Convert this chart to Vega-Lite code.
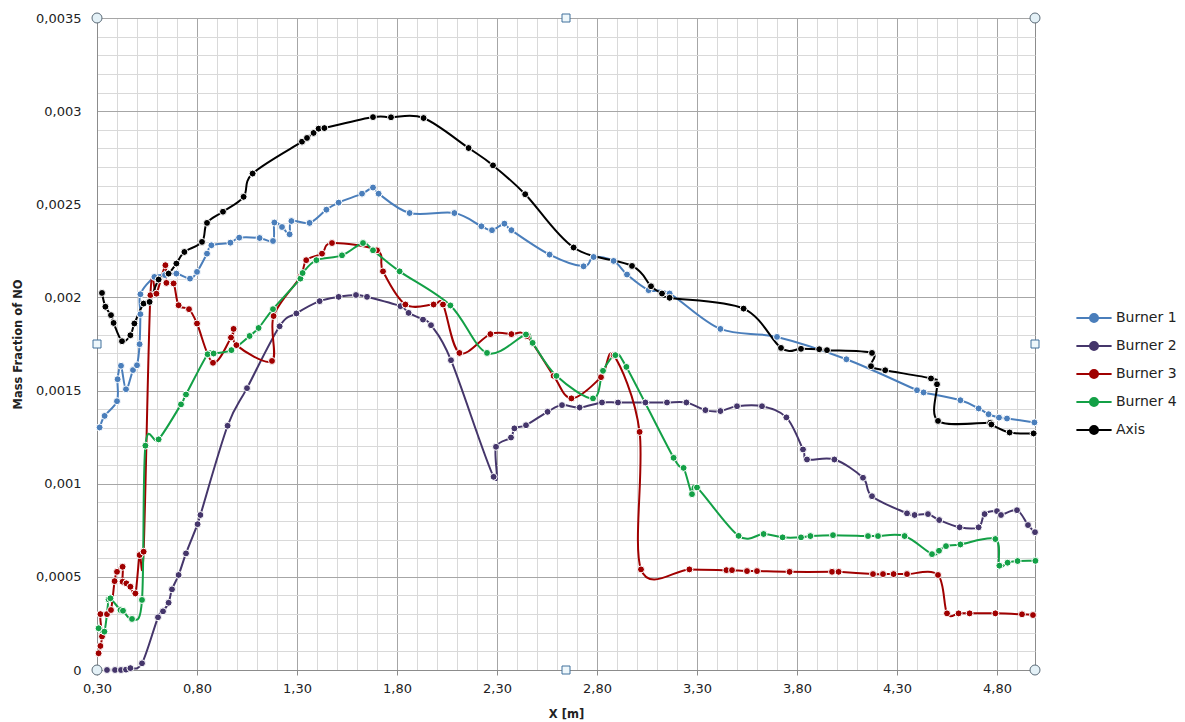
{
  "$schema": "https://vega.github.io/schema/vega-lite/v6.json",
  "width": 938,
  "height": 652,
  "autosize": {"type": "none"},
  "padding": {"left": 97, "top": 18, "right": 150, "bottom": 52},
  "background": "white",
  "config": {
    "font": "DejaVu Sans",
    "view": {"stroke": "#8c8c8c", "strokeWidth": 1},
    "axis": {
      "domainColor": "#8c8c8c",
      "labelFont": "DejaVu Sans",
      "labelFontSize": 13,
      "labelColor": "#222222",
      "labelOverlap": false,
      "labelFlush": false,
      "titleFont": "DejaVu Sans",
      "titleFontSize": 11.5,
      "titleFontWeight": "bold",
      "titleColor": "#222222",
      "gridWidth": 1
    }
  },
  "datasets": {
    "series": [
      {"s": "Burner 1", "x": 0.313, "y": 0.001302},
      {"s": "Burner 1", "x": 0.338, "y": 0.001364},
      {"s": "Burner 1", "x": 0.400, "y": 0.001443},
      {"s": "Burner 1", "x": 0.403, "y": 0.001561},
      {"s": "Burner 1", "x": 0.420, "y": 0.001633},
      {"s": "Burner 1", "x": 0.445, "y": 0.001507},
      {"s": "Burner 1", "x": 0.480, "y": 0.001610},
      {"s": "Burner 1", "x": 0.500, "y": 0.001636},
      {"s": "Burner 1", "x": 0.513, "y": 0.001749},
      {"s": "Burner 1", "x": 0.517, "y": 0.001910},
      {"s": "Burner 1", "x": 0.517, "y": 0.002017},
      {"s": "Burner 1", "x": 0.587, "y": 0.002110},
      {"s": "Burner 1", "x": 0.640, "y": 0.002120},
      {"s": "Burner 1", "x": 0.697, "y": 0.002128},
      {"s": "Burner 1", "x": 0.765, "y": 0.002101},
      {"s": "Burner 1", "x": 0.800, "y": 0.002137},
      {"s": "Burner 1", "x": 0.850, "y": 0.002235},
      {"s": "Burner 1", "x": 0.872, "y": 0.002280},
      {"s": "Burner 1", "x": 0.967, "y": 0.002294},
      {"s": "Burner 1", "x": 1.011, "y": 0.002321},
      {"s": "Burner 1", "x": 1.113, "y": 0.002319},
      {"s": "Burner 1", "x": 1.180, "y": 0.002303},
      {"s": "Burner 1", "x": 1.187, "y": 0.002402},
      {"s": "Burner 1", "x": 1.225, "y": 0.002378},
      {"s": "Burner 1", "x": 1.263, "y": 0.002339},
      {"s": "Burner 1", "x": 1.272, "y": 0.002410},
      {"s": "Burner 1", "x": 1.363, "y": 0.002400},
      {"s": "Burner 1", "x": 1.447, "y": 0.002471},
      {"s": "Burner 1", "x": 1.508, "y": 0.002509},
      {"s": "Burner 1", "x": 1.625, "y": 0.002557},
      {"s": "Burner 1", "x": 1.680, "y": 0.002590},
      {"s": "Burner 1", "x": 1.708, "y": 0.002557},
      {"s": "Burner 1", "x": 1.863, "y": 0.002453},
      {"s": "Burner 1", "x": 2.087, "y": 0.002453},
      {"s": "Burner 1", "x": 2.222, "y": 0.002382},
      {"s": "Burner 1", "x": 2.275, "y": 0.002361},
      {"s": "Burner 1", "x": 2.337, "y": 0.002396},
      {"s": "Burner 1", "x": 2.372, "y": 0.002361},
      {"s": "Burner 1", "x": 2.563, "y": 0.002230},
      {"s": "Burner 1", "x": 2.733, "y": 0.002167},
      {"s": "Burner 1", "x": 2.783, "y": 0.002217},
      {"s": "Burner 1", "x": 2.883, "y": 0.002196},
      {"s": "Burner 1", "x": 2.950, "y": 0.002123},
      {"s": "Burner 1", "x": 3.058, "y": 0.002039},
      {"s": "Burner 1", "x": 3.163, "y": 0.002021},
      {"s": "Burner 1", "x": 3.417, "y": 0.001831},
      {"s": "Burner 1", "x": 3.700, "y": 0.001788},
      {"s": "Burner 1", "x": 4.047, "y": 0.001668},
      {"s": "Burner 1", "x": 4.400, "y": 0.001502},
      {"s": "Burner 1", "x": 4.433, "y": 0.001490},
      {"s": "Burner 1", "x": 4.617, "y": 0.001448},
      {"s": "Burner 1", "x": 4.708, "y": 0.001404},
      {"s": "Burner 1", "x": 4.758, "y": 0.001373},
      {"s": "Burner 1", "x": 4.810, "y": 0.001355},
      {"s": "Burner 1", "x": 4.850, "y": 0.001350},
      {"s": "Burner 1", "x": 4.987, "y": 0.001329},

      {"s": "Burner 2", "x": 0.350, "y": 0.0},
      {"s": "Burner 2", "x": 0.390, "y": 0.0},
      {"s": "Burner 2", "x": 0.420, "y": 0.0},
      {"s": "Burner 2", "x": 0.445, "y": 0.000002},
      {"s": "Burner 2", "x": 0.467, "y": 0.000010},
      {"s": "Burner 2", "x": 0.525, "y": 0.000036},
      {"s": "Burner 2", "x": 0.605, "y": 0.000283},
      {"s": "Burner 2", "x": 0.630, "y": 0.000315},
      {"s": "Burner 2", "x": 0.658, "y": 0.000361},
      {"s": "Burner 2", "x": 0.675, "y": 0.000433},
      {"s": "Burner 2", "x": 0.708, "y": 0.000510},
      {"s": "Burner 2", "x": 0.745, "y": 0.000626},
      {"s": "Burner 2", "x": 0.803, "y": 0.000783},
      {"s": "Burner 2", "x": 0.817, "y": 0.000832},
      {"s": "Burner 2", "x": 0.953, "y": 0.001311},
      {"s": "Burner 2", "x": 1.050, "y": 0.001513},
      {"s": "Burner 2", "x": 1.213, "y": 0.001845},
      {"s": "Burner 2", "x": 1.297, "y": 0.001914},
      {"s": "Burner 2", "x": 1.413, "y": 0.001980},
      {"s": "Burner 2", "x": 1.508, "y": 0.002003},
      {"s": "Burner 2", "x": 1.595, "y": 0.002013},
      {"s": "Burner 2", "x": 1.650, "y": 0.002003},
      {"s": "Burner 2", "x": 1.817, "y": 0.001953},
      {"s": "Burner 2", "x": 1.858, "y": 0.001917},
      {"s": "Burner 2", "x": 1.930, "y": 0.001881},
      {"s": "Burner 2", "x": 1.970, "y": 0.001851},
      {"s": "Burner 2", "x": 2.070, "y": 0.001663},
      {"s": "Burner 2", "x": 2.283, "y": 0.001037},
      {"s": "Burner 2", "x": 2.295, "y": 0.001198},
      {"s": "Burner 2", "x": 2.370, "y": 0.001248},
      {"s": "Burner 2", "x": 2.387, "y": 0.001297},
      {"s": "Burner 2", "x": 2.445, "y": 0.001314},
      {"s": "Burner 2", "x": 2.553, "y": 0.001386},
      {"s": "Burner 2", "x": 2.625, "y": 0.001422},
      {"s": "Burner 2", "x": 2.713, "y": 0.001409},
      {"s": "Burner 2", "x": 2.825, "y": 0.001436},
      {"s": "Burner 2", "x": 2.905, "y": 0.001436},
      {"s": "Burner 2", "x": 3.042, "y": 0.001436},
      {"s": "Burner 2", "x": 3.150, "y": 0.001436},
      {"s": "Burner 2", "x": 3.247, "y": 0.001436},
      {"s": "Burner 2", "x": 3.342, "y": 0.001395},
      {"s": "Burner 2", "x": 3.417, "y": 0.001390},
      {"s": "Burner 2", "x": 3.500, "y": 0.001416},
      {"s": "Burner 2", "x": 3.625, "y": 0.001416},
      {"s": "Burner 2", "x": 3.747, "y": 0.001356},
      {"s": "Burner 2", "x": 3.830, "y": 0.001184},
      {"s": "Burner 2", "x": 3.850, "y": 0.001130},
      {"s": "Burner 2", "x": 3.987, "y": 0.001130},
      {"s": "Burner 2", "x": 4.130, "y": 0.001032},
      {"s": "Burner 2", "x": 4.175, "y": 0.000933},
      {"s": "Burner 2", "x": 4.350, "y": 0.000841},
      {"s": "Burner 2", "x": 4.388, "y": 0.000832},
      {"s": "Burner 2", "x": 4.455, "y": 0.000837},
      {"s": "Burner 2", "x": 4.511, "y": 0.000805},
      {"s": "Burner 2", "x": 4.613, "y": 0.000766},
      {"s": "Burner 2", "x": 4.708, "y": 0.000766},
      {"s": "Burner 2", "x": 4.738, "y": 0.000837},
      {"s": "Burner 2", "x": 4.800, "y": 0.000853},
      {"s": "Burner 2", "x": 4.820, "y": 0.000832},
      {"s": "Burner 2", "x": 4.900, "y": 0.000858},
      {"s": "Burner 2", "x": 4.955, "y": 0.000778},
      {"s": "Burner 2", "x": 4.990, "y": 0.000740},

      {"s": "Burner 3", "x": 0.308, "y": 0.000090},
      {"s": "Burner 3", "x": 0.317, "y": 0.000129},
      {"s": "Burner 3", "x": 0.325, "y": 0.000180},
      {"s": "Burner 3", "x": 0.317, "y": 0.000300},
      {"s": "Burner 3", "x": 0.350, "y": 0.000300},
      {"s": "Burner 3", "x": 0.370, "y": 0.000322},
      {"s": "Burner 3", "x": 0.388, "y": 0.000477},
      {"s": "Burner 3", "x": 0.400, "y": 0.000527},
      {"s": "Burner 3", "x": 0.428, "y": 0.000554},
      {"s": "Burner 3", "x": 0.428, "y": 0.000474},
      {"s": "Burner 3", "x": 0.447, "y": 0.000465},
      {"s": "Burner 3", "x": 0.467, "y": 0.000447},
      {"s": "Burner 3", "x": 0.492, "y": 0.000411},
      {"s": "Burner 3", "x": 0.513, "y": 0.000617},
      {"s": "Burner 3", "x": 0.533, "y": 0.000635},
      {"s": "Burner 3", "x": 0.567, "y": 0.002012},
      {"s": "Burner 3", "x": 0.597, "y": 0.002020},
      {"s": "Burner 3", "x": 0.642, "y": 0.002173},
      {"s": "Burner 3", "x": 0.647, "y": 0.002078},
      {"s": "Burner 3", "x": 0.683, "y": 0.002075},
      {"s": "Burner 3", "x": 0.708, "y": 0.001958},
      {"s": "Burner 3", "x": 0.760, "y": 0.001937},
      {"s": "Burner 3", "x": 0.800, "y": 0.001860},
      {"s": "Burner 3", "x": 0.880, "y": 0.001649},
      {"s": "Burner 3", "x": 0.970, "y": 0.001785},
      {"s": "Burner 3", "x": 0.983, "y": 0.001831},
      {"s": "Burner 3", "x": 0.997, "y": 0.001744},
      {"s": "Burner 3", "x": 1.175, "y": 0.001659},
      {"s": "Burner 3", "x": 1.183, "y": 0.001900},
      {"s": "Burner 3", "x": 1.316, "y": 0.002110},
      {"s": "Burner 3", "x": 1.346, "y": 0.002200},
      {"s": "Burner 3", "x": 1.425, "y": 0.002235},
      {"s": "Burner 3", "x": 1.475, "y": 0.002292},
      {"s": "Burner 3", "x": 1.700, "y": 0.002253},
      {"s": "Burner 3", "x": 1.730, "y": 0.002140},
      {"s": "Burner 3", "x": 1.842, "y": 0.001962},
      {"s": "Burner 3", "x": 1.983, "y": 0.001962},
      {"s": "Burner 3", "x": 2.030, "y": 0.001962},
      {"s": "Burner 3", "x": 2.112, "y": 0.001702},
      {"s": "Burner 3", "x": 2.267, "y": 0.001803},
      {"s": "Burner 3", "x": 2.372, "y": 0.001803},
      {"s": "Burner 3", "x": 2.450, "y": 0.001792},
      {"s": "Burner 3", "x": 2.583, "y": 0.001579},
      {"s": "Burner 3", "x": 2.672, "y": 0.001458},
      {"s": "Burner 3", "x": 2.820, "y": 0.001572},
      {"s": "Burner 3", "x": 2.883, "y": 0.001690},
      {"s": "Burner 3", "x": 3.013, "y": 0.001278},
      {"s": "Burner 3", "x": 3.020, "y": 0.000540},
      {"s": "Burner 3", "x": 3.262, "y": 0.000540},
      {"s": "Burner 3", "x": 3.447, "y": 0.000536},
      {"s": "Burner 3", "x": 3.475, "y": 0.000536},
      {"s": "Burner 3", "x": 3.550, "y": 0.000531},
      {"s": "Burner 3", "x": 3.600, "y": 0.000531},
      {"s": "Burner 3", "x": 3.763, "y": 0.000527},
      {"s": "Burner 3", "x": 3.975, "y": 0.000527},
      {"s": "Burner 3", "x": 4.008, "y": 0.000527},
      {"s": "Burner 3", "x": 4.180, "y": 0.000515},
      {"s": "Burner 3", "x": 4.230, "y": 0.000515},
      {"s": "Burner 3", "x": 4.283, "y": 0.000515},
      {"s": "Burner 3", "x": 4.350, "y": 0.000515},
      {"s": "Burner 3", "x": 4.505, "y": 0.000510},
      {"s": "Burner 3", "x": 4.550, "y": 0.000304},
      {"s": "Burner 3", "x": 4.608, "y": 0.000304},
      {"s": "Burner 3", "x": 4.663, "y": 0.000304},
      {"s": "Burner 3", "x": 4.792, "y": 0.000304},
      {"s": "Burner 3", "x": 4.925, "y": 0.000299},
      {"s": "Burner 3", "x": 4.980, "y": 0.000295},

      {"s": "Burner 4", "x": 0.308, "y": 0.000224},
      {"s": "Burner 4", "x": 0.337, "y": 0.000206},
      {"s": "Burner 4", "x": 0.358, "y": 0.000379},
      {"s": "Burner 4", "x": 0.367, "y": 0.000385},
      {"s": "Burner 4", "x": 0.417, "y": 0.000322},
      {"s": "Burner 4", "x": 0.430, "y": 0.000318},
      {"s": "Burner 4", "x": 0.475, "y": 0.000274},
      {"s": "Burner 4", "x": 0.525, "y": 0.000376},
      {"s": "Burner 4", "x": 0.542, "y": 0.001204},
      {"s": "Burner 4", "x": 0.608, "y": 0.001238},
      {"s": "Burner 4", "x": 0.720, "y": 0.001426},
      {"s": "Burner 4", "x": 0.745, "y": 0.001479},
      {"s": "Burner 4", "x": 0.853, "y": 0.001695},
      {"s": "Burner 4", "x": 0.883, "y": 0.001699},
      {"s": "Burner 4", "x": 0.972, "y": 0.001717},
      {"s": "Burner 4", "x": 1.063, "y": 0.001793},
      {"s": "Burner 4", "x": 1.108, "y": 0.001836},
      {"s": "Burner 4", "x": 1.180, "y": 0.001937},
      {"s": "Burner 4", "x": 1.317, "y": 0.002101},
      {"s": "Burner 4", "x": 1.328, "y": 0.002131},
      {"s": "Burner 4", "x": 1.397, "y": 0.002200},
      {"s": "Burner 4", "x": 1.525, "y": 0.002226},
      {"s": "Burner 4", "x": 1.630, "y": 0.002292},
      {"s": "Burner 4", "x": 1.680, "y": 0.002253},
      {"s": "Burner 4", "x": 1.813, "y": 0.002140},
      {"s": "Burner 4", "x": 2.067, "y": 0.001957},
      {"s": "Burner 4", "x": 2.250, "y": 0.001702},
      {"s": "Burner 4", "x": 2.445, "y": 0.001801},
      {"s": "Burner 4", "x": 2.478, "y": 0.001756},
      {"s": "Burner 4", "x": 2.597, "y": 0.001579},
      {"s": "Burner 4", "x": 2.780, "y": 0.001458},
      {"s": "Burner 4", "x": 2.830, "y": 0.001606},
      {"s": "Burner 4", "x": 2.892, "y": 0.001690},
      {"s": "Burner 4", "x": 2.947, "y": 0.001627},
      {"s": "Burner 4", "x": 3.183, "y": 0.001139},
      {"s": "Burner 4", "x": 3.233, "y": 0.001085},
      {"s": "Burner 4", "x": 3.275, "y": 0.000944},
      {"s": "Burner 4", "x": 3.300, "y": 0.000980},
      {"s": "Burner 4", "x": 3.508, "y": 0.000720},
      {"s": "Burner 4", "x": 3.633, "y": 0.000730},
      {"s": "Burner 4", "x": 3.728, "y": 0.000712},
      {"s": "Burner 4", "x": 3.820, "y": 0.000712},
      {"s": "Burner 4", "x": 3.867, "y": 0.000719},
      {"s": "Burner 4", "x": 3.980, "y": 0.000724},
      {"s": "Burner 4", "x": 4.155, "y": 0.000719},
      {"s": "Burner 4", "x": 4.205, "y": 0.000719},
      {"s": "Burner 4", "x": 4.338, "y": 0.000719},
      {"s": "Burner 4", "x": 4.475, "y": 0.000622},
      {"s": "Burner 4", "x": 4.510, "y": 0.000640},
      {"s": "Burner 4", "x": 4.545, "y": 0.000665},
      {"s": "Burner 4", "x": 4.617, "y": 0.000674},
      {"s": "Burner 4", "x": 4.792, "y": 0.000703},
      {"s": "Burner 4", "x": 4.812, "y": 0.000560},
      {"s": "Burner 4", "x": 4.853, "y": 0.000576},
      {"s": "Burner 4", "x": 4.903, "y": 0.000585},
      {"s": "Burner 4", "x": 4.992, "y": 0.000586},

      {"s": "Axis", "x": 0.325, "y": 0.002024},
      {"s": "Axis", "x": 0.342, "y": 0.001950},
      {"s": "Axis", "x": 0.370, "y": 0.001905},
      {"s": "Axis", "x": 0.383, "y": 0.001863},
      {"s": "Axis", "x": 0.425, "y": 0.001765},
      {"s": "Axis", "x": 0.467, "y": 0.001797},
      {"s": "Axis", "x": 0.487, "y": 0.001860},
      {"s": "Axis", "x": 0.533, "y": 0.001967},
      {"s": "Axis", "x": 0.563, "y": 0.001976},
      {"s": "Axis", "x": 0.608, "y": 0.002096},
      {"s": "Axis", "x": 0.658, "y": 0.002128},
      {"s": "Axis", "x": 0.697, "y": 0.002182},
      {"s": "Axis", "x": 0.737, "y": 0.002244},
      {"s": "Axis", "x": 0.825, "y": 0.002298},
      {"s": "Axis", "x": 0.850, "y": 0.002400},
      {"s": "Axis", "x": 0.930, "y": 0.002460},
      {"s": "Axis", "x": 1.033, "y": 0.002540},
      {"s": "Axis", "x": 1.078, "y": 0.002665},
      {"s": "Axis", "x": 1.325, "y": 0.002836},
      {"s": "Axis", "x": 1.350, "y": 0.002856},
      {"s": "Axis", "x": 1.383, "y": 0.002883},
      {"s": "Axis", "x": 1.408, "y": 0.002906},
      {"s": "Axis", "x": 1.437, "y": 0.002909},
      {"s": "Axis", "x": 1.680, "y": 0.002968},
      {"s": "Axis", "x": 1.770, "y": 0.002967},
      {"s": "Axis", "x": 1.933, "y": 0.002963},
      {"s": "Axis", "x": 2.158, "y": 0.002802},
      {"s": "Axis", "x": 2.280, "y": 0.002709},
      {"s": "Axis", "x": 2.441, "y": 0.002554},
      {"s": "Axis", "x": 2.683, "y": 0.002268},
      {"s": "Axis", "x": 2.975, "y": 0.002169},
      {"s": "Axis", "x": 3.070, "y": 0.002060},
      {"s": "Axis", "x": 3.125, "y": 0.002021},
      {"s": "Axis", "x": 3.163, "y": 0.001998},
      {"s": "Axis", "x": 3.533, "y": 0.001940},
      {"s": "Axis", "x": 3.720, "y": 0.001729},
      {"s": "Axis", "x": 3.820, "y": 0.001724},
      {"s": "Axis", "x": 3.911, "y": 0.001722},
      {"s": "Axis", "x": 3.950, "y": 0.001717},
      {"s": "Axis", "x": 4.175, "y": 0.001702},
      {"s": "Axis", "x": 4.170, "y": 0.001631},
      {"s": "Axis", "x": 4.241, "y": 0.001609},
      {"s": "Axis", "x": 4.470, "y": 0.001565},
      {"s": "Axis", "x": 4.500, "y": 0.001534},
      {"s": "Axis", "x": 4.505, "y": 0.001337},
      {"s": "Axis", "x": 4.766, "y": 0.001327},
      {"s": "Axis", "x": 4.772, "y": 0.001318},
      {"s": "Axis", "x": 4.863, "y": 0.001275},
      {"s": "Axis", "x": 4.983, "y": 0.001270}
    ],
    "corners": [
      {"x": 0.3, "y": 0.0},
      {"x": 0.3, "y": 0.0035},
      {"x": 4.99, "y": 0.0},
      {"x": 4.99, "y": 0.0035}
    ],
    "edges": [
      {"x": 2.645, "y": 0.0},
      {"x": 2.645, "y": 0.0035},
      {"x": 0.3, "y": 0.00175},
      {"x": 4.99, "y": 0.00175}
    ]
  },
  "encoding": {
    "x": {
      "field": "x",
      "type": "quantitative",
      "scale": {"domain": [0.3, 4.99], "nice": false, "zero": false},
      "axis": {
        "title": "X [m]",
        "titleX": 469,
        "titleY": 44,
        "titleBaseline": "middle",
        "values": [0.3, 0.4, 0.5, 0.6, 0.7, 0.8, 0.9, 1.0, 1.1, 1.2, 1.3, 1.4, 1.5, 1.6, 1.7, 1.8, 1.9, 2.0, 2.1, 2.2, 2.3, 2.4, 2.5, 2.6, 2.7, 2.8, 2.9, 3.0, 3.1, 3.2, 3.3, 3.4, 3.5, 3.6, 3.7, 3.8, 3.9, 4.0, 4.1, 4.2, 4.3, 4.4, 4.5, 4.6, 4.7, 4.8, 4.9],
        "labelExpr": "round(datum.value * 10) % 5 == 3 ? replace(format(datum.value, '.2f'), '.', ',') : ''",
        "gridColor": {"condition": {"test": "round(datum.value * 10) % 5 == 3", "value": "#a6a6a6"}, "value": "#d9d9d9"},
        "tickColor": {"condition": {"test": "round(datum.value * 10) % 5 == 3", "value": "#8c8c8c"}, "value": "transparent"},
        "tickSize": 5,
        "labelPadding": 7
      }
    },
    "y": {
      "field": "y",
      "type": "quantitative",
      "scale": {"domain": [0, 0.0035], "nice": false},
      "axis": {
        "title": "Mass Fraction of NO",
        "titleX": -79,
        "titleY": 326,
        "titleAngle": -90,
        "titleAlign": "center",
        "titleBaseline": "middle",
        "values": [0, 0.0001, 0.0002, 0.0003, 0.0004, 0.0005, 0.0006, 0.0007, 0.0008, 0.0009, 0.001, 0.0011, 0.0012, 0.0013, 0.0014, 0.0015, 0.0016, 0.0017, 0.0018, 0.0019, 0.002, 0.0021, 0.0022, 0.0023, 0.0024, 0.0025, 0.0026, 0.0027, 0.0028, 0.0029, 0.003, 0.0031, 0.0032, 0.0033, 0.0034, 0.0035],
        "labelExpr": "round(datum.value * 10000) % 5 == 0 ? replace(format(datum.value, '~g'), '.', ',') : ''",
        "gridColor": {"condition": {"test": "round(datum.value * 10000) % 5 == 0", "value": "#a6a6a6"}, "value": "#d9d9d9"},
        "ticks": false,
        "labelPadding": 16
      }
    }
  },
  "layer": [
    {
      "data": {"name": "series"},
      "mark": {"type": "line", "interpolate": "cardinal", "strokeWidth": 2},
      "encoding": {
        "color": {
          "field": "s",
          "type": "nominal",
          "scale": {
            "domain": ["Burner 1", "Burner 2", "Burner 3", "Burner 4", "Axis"],
            "range": ["#4a7ebb", "#45366b", "#a00000", "#13a046", "#000000"]
          },
          "legend": {
            "title": null,
            "orient": "none",
            "legendX": 990,
            "legendY": 293,
            "labelFont": "DejaVu Sans",
            "labelFontSize": 14,
            "labelColor": "#222222",
            "labelOffset": 15,
            "rowPadding": 12,
            "symbolType": "M-4.4,0H4.4M-1,0A1,1 0 1,1 1,0A1,1 0 1,1 -1,0Z",
            "symbolSize": 64,
            "symbolStrokeWidth": 2,
            "encode": {
              "symbols": {
                "update": {
                  "fill": {"scale": "color", "field": "value"},
                  "stroke": {"scale": "color", "field": "value"},
                  "opacity": {"value": 1}
                }
              }
            }
          }
        },
        "order": {"value": null}
      }
    },
    {
      "data": {"name": "series"},
      "mark": {"type": "point", "filled": true, "shape": "circle", "size": 48, "stroke": "white", "strokeWidth": 1, "opacity": 1},
      "encoding": {
        "color": {"field": "s", "type": "nominal"}
      }
    },
    {
      "data": {"name": "corners"},
      "mark": {"type": "point", "shape": "circle", "size": 100, "filled": true, "fill": "#e4f1f7", "stroke": "#5b6b78", "strokeWidth": 1, "opacity": 1}
    },
    {
      "data": {"name": "edges"},
      "mark": {"type": "point", "shape": "square", "size": 64, "filled": true, "fill": "#eef7fb", "stroke": "#41719c", "strokeWidth": 1, "opacity": 1}
    }
  ]
}
